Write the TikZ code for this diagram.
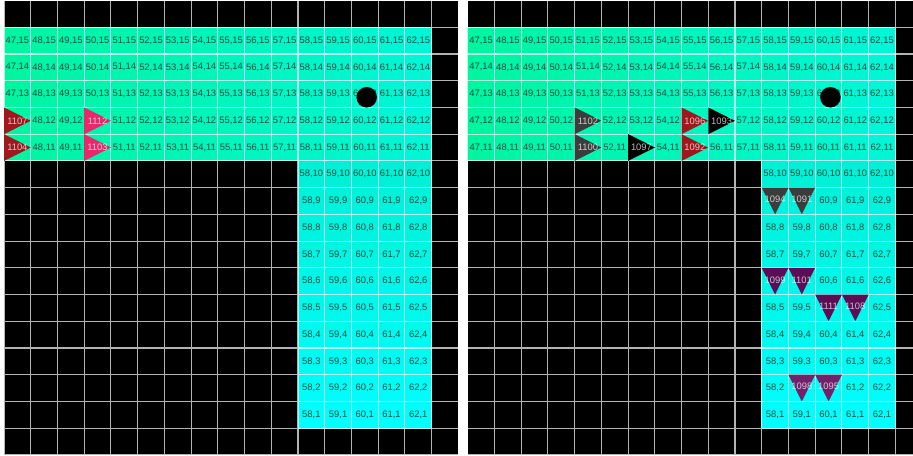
\documentclass[tikz,border=0pt]{standalone}
\usepackage{fontspec}
\setmainfont{Liberation Sans}
\usepackage{xcolor}

\definecolor{bandleft}{RGB}{0,245,160}
\definecolor{bandright}{RGB}{0,246,215}
\definecolor{stemtop}{RGB}{0,240,212}
\definecolor{stembottom}{RGB}{0,255,255}
\definecolor{cellink}{RGB}{25,75,65}
\definecolor{redmark}{RGB}{158,24,30}
\definecolor{pinkmark}{RGB}{232,40,106}
\definecolor{greymark}{RGB}{60,60,60}
\definecolor{plummark}{RGB}{92,14,84}
\definecolor{orchidmark}{RGB}{114,34,106}

% marked cells: column/row/colour/id
\newcommand{\marksL}{47/12/redmark/1107, 47/11/redmark/1104, 50/12/pinkmark/1112, 50/11/pinkmark/1103}
\newcommand{\marksRright}{51/12/greymark/1102, 51/11/greymark/1100, 53/11/black/1097,
  55/12/redmark/1096, 55/11/redmark/1092, 56/12/black/1093}
\newcommand{\marksRdown}{58/9/greymark/1094, 59/9/greymark/1091, 58/6/plummark/1099,
  59/6/plummark/1101, 60/5/plummark/1111, 61/5/plummark/1108,
  59/2/orchidmark/1098, 60/2/orchidmark/1095}

\begin{document}
\begin{tikzpicture}[
  x=0.5cm, y=0.5cm,
  cellnum/.style={font=\fontsize{5}{6}\selectfont, text=cellink, inner sep=0pt},
  marknum/.style={font=\fontsize{5}{6}\selectfont, text=white, text opacity=.72, inner sep=0pt},
  gridline/.style={draw=white, draw opacity=.7, line width=.6pt}
]
\useasboundingbox (-0.15,-0.04) rectangle (34.01,17.02);
\clip (-0.15,-0.04) rectangle (34.01,17.02);

% cells whose number is hidden by a marker
\foreach \c/\r/\mc/\num in \marksL {\expandafter\gdef\csname skipL-\c-\r\endcsname{}}
\foreach \c/\r/\mc/\num in \marksRright {\expandafter\gdef\csname skipR-\c-\r\endcsname{}}
\foreach \c/\r/\mc/\num in \marksRdown {\expandafter\gdef\csname skipR-\c-\r\endcsname{}}

% the two boards
\foreach \ox/\pn in {0/L, 17.35/R} {
  \begin{scope}[shift={(\ox,0)}]
    \fill[black] (0,0) rectangle (17,17);
    \shade[left color=bandleft, right color=bandright] (0,11) rectangle (16,16);
    \shade[top color=stemtop, bottom color=stembottom] (11,1) rectangle (16,11);
    \draw[gridline, step=1] (0,0) grid (17,17);
    \foreach \c in {47,...,62}
      \foreach \r in {11,...,15} {
        \ifcsname skip\pn-\c-\r\endcsname\else
          \node[cellnum] (\pn-\c-\r) at (\c-46.5,\r+0.5) {\c,\r};
        \fi
      }
    \foreach \c in {58,...,62}
      \foreach \r in {1,...,10} {
        \ifcsname skip\pn-\c-\r\endcsname\else
          \node[cellnum] (\pn-\c-\r) at (\c-46.5,\r+0.5) {\c,\r};
        \fi
      }
    \fill[black] (13.57,13.38) circle (0.385);
  \end{scope}
}

% markers, left board
\foreach \c/\r/\mc/\num in \marksL {
  \fill[\mc] (\c-47,\r) -- ++(1,0.5) -- ++(-1,0.5) -- cycle;
  \node[marknum] (L-\num) at (\c-46.5,\r+0.5) {\num};
}

% markers, right board
\begin{scope}[shift={(17.35,0)}]
  \foreach \c/\r/\mc/\num in \marksRright {
    \fill[\mc] (\c-47,\r) -- ++(1,0.5) -- ++(-1,0.5) -- cycle;
    \node[marknum] (R-\num) at (\c-46.5,\r+0.5) {\num};
  }
  \foreach \c/\r/\mc/\num in \marksRdown {
    \fill[\mc] (\c-47,\r+1) -- ++(1,0) -- ++(-0.5,-1) -- cycle;
    \node[marknum] (R-\num) at (\c-46.5,\r+0.55) {\num};
  }
\end{scope}
\end{tikzpicture}
\end{document}
